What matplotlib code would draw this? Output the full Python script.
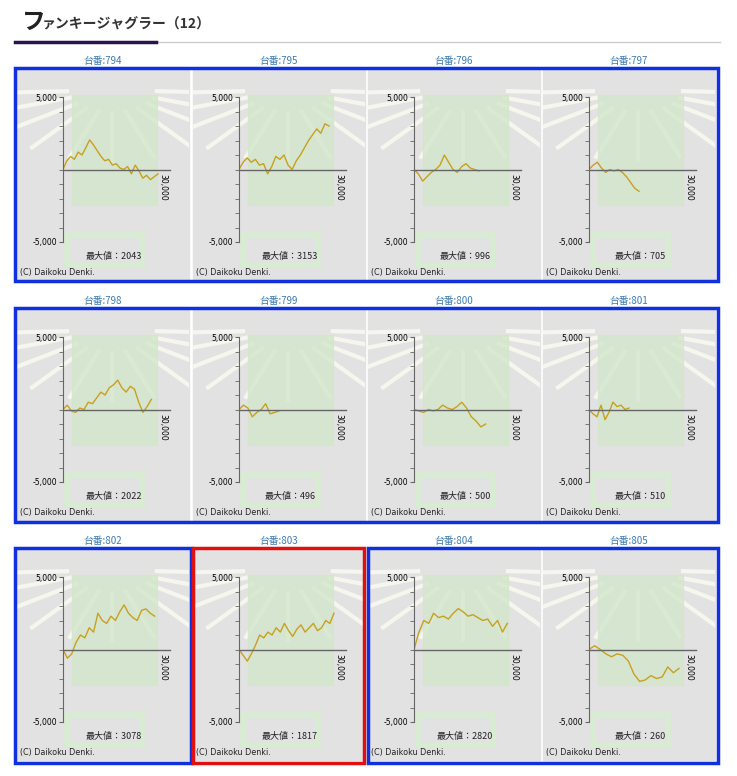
import matplotlib.pyplot as plt
from matplotlib.patches import Rectangle
import numpy as np

plt.rcParams['font.family'] = ['Noto Sans CJK JP', 'DejaVu Sans']

W, H = 737, 776

machines = [794, 795, 796, 797, 798, 799, 800, 801, 802, 803, 804, 805]
max_vals = [2043, 3153, 996, 705, 2022, 496, 500, 510, 3078, 1817, 2820, 260]
end_games = [28500, 27000, 19500, 15000, 26500, 12000, 21500, 12000, 27500, 28500, 28000, 27000]
series = [
    [0, 600, 900, 700, 1200, 1000, 1500, 2043, 1700, 1300, 900, 600, 700, 300, 400, 100, 0, 200, -300, 300, -100, -600, -400, -700, -500, -300],
    [0, 500, 800, 500, 700, 300, 400, -300, 200, 900, 700, 1000, 300, 0, 600, 1000, 1500, 2000, 2400, 2800, 2500, 3153, 3000],
    [0, -300, -800, -500, -200, 0, 300, 996, 500, 0, -200, 200, 400, 100, 0, -100],
    [0, 300, 500, 100, -200, 0, -100, 0, -200, -500, -900, -1300, -1500],
    [0, 300, -100, -200, 100, 0, 500, 400, 800, 1200, 1000, 1500, 1700, 2022, 1500, 1200, 1600, 1400, 500, -200, 200, 700],
    [0, 300, 100, -500, -200, 0, 400, -300, -200, -100],
    [0, -100, -200, 0, -100, 0, 300, 100, 0, 200, 500, 100, -500, -800, -1200, -1000],
    [0, -300, -500, 300, -700, -200, 510, 200, 300, 0, 100],
    [0, -600, -300, 500, 1000, 800, 1500, 1200, 2500, 2000, 1800, 2300, 2000, 2600, 3078, 2500, 2200, 2000, 2700, 2800, 2500, 2300],
    [0, -400, -800, -300, 300, 1000, 800, 1200, 1000, 1500, 1200, 1800, 1300, 900, 1400, 1700, 1200, 1500, 1800, 1300, 1500, 2000, 1800, 2500],
    [0, 1200, 2000, 1800, 2500, 2200, 2300, 2100, 2500, 2820, 2600, 2300, 2400, 2200, 2000, 2100, 1600, 2000, 1200, 1800],
    [0, 260, 0, -300, -500, -300, -400, -800, -1700, -2200, -2100, -1800, -2000, -1900, -1200, -1600, -1300],
]

fig = plt.figure(figsize=(W / 100, H / 100), dpi=100)
fig.patch.set_facecolor('white')


def px(x, y, w, h):
    return [x / W, 1 - (y + h) / H, w / W, h / H]


bg = fig.add_axes([0, 0, 1, 1])
bg.set_xlim(0, W)
bg.set_ylim(H, 0)
bg.axis('off')

# header
bg.text(22, 22, 'フ', fontsize=17, fontweight='bold', va='center', color='#222')
bg.text(42, 24, 'ァンキージャグラー（12）', fontsize=10, fontweight='bold', va='center', color='#333')
bg.plot([15, 720], [42, 42], color='#cccccc', lw=1)
bg.plot([15, 156], [42, 42], color='#2a1450', lw=2.5)

col_x = [17, 193, 368, 543]
row_y = [70, 310, 550]
pw, ph = 172, 210

for i, m in enumerate(machines):
    r, c = divmod(i, 4)
    x0, y0 = col_x[c], row_y[r]
    bg.add_patch(Rectangle((x0, y0), pw, ph, color='#e2e2e2', zorder=0))
    # faint rays and machine picture in the background
    cx, cy = x0 + 95, y0 + 20
    for a in np.linspace(0.05, np.pi - 0.05, 11):
        ln, = bg.plot([cx + 45 * np.cos(a), cx + 140 * np.cos(a)],
                      [cy + 45 * np.sin(a) * 0.5, cy + 140 * np.sin(a) * 0.5],
                      color='#f6f6ee', lw=3, zorder=0.5)
        ln.set_clip_path(Rectangle((x0, y0), pw, ph, transform=bg.transData))
    bg.add_patch(Rectangle((x0 + 55, y0 + 25), 85, 110, color='#d3e6cb', alpha=0.8, zorder=0.6))
    bg.add_patch(Rectangle((x0 + 50, y0 + 165), 75, 30, fill=False, ec='#d8ecd2', lw=4, zorder=0.6))
    bg.text(x0 + pw / 2, y0 - 9, '台番:%d' % m, fontsize=7, color='#3c7bb0', ha='center', va='center')
    bg.text(x0 + 3, y0 + 202, '(C) Daikoku Denki.', fontsize=5.8, color='#222', va='center',
            family=['DejaVu Sans'])
    bg.text(x0 + 97, y0 + 186, '最大値：%d' % max_vals[i], fontsize=6.5, color='#222', ha='center', va='center')

    ax = fig.add_axes(px(x0 + 46, y0 + 27, 100, 145))
    ax.patch.set_alpha(0)
    ax.set_xlim(0, 30000)
    ax.set_ylim(-5000, 5000)
    vals = series[i]
    xs = np.linspace(0, end_games[i], len(vals))
    ax.plot(xs, vals, color='#c8a020', lw=1)
    ax.plot([0, 32000], [0, 0], color='#666666', lw=1, clip_on=False)
    ax.text(30000, -300, '30,000', rotation=270, fontsize=5.5, ha='center', va='top', family=['DejaVu Sans'])
    for s in ['top', 'right', 'bottom']:
        ax.spines[s].set_visible(False)
    ax.spines['left'].set_color('#666666')
    ax.set_xticks([])
    ax.set_yticks([5000, -5000])
    ax.set_yticklabels(['5,000', '-5,000'], fontsize=5.5, family=['DejaVu Sans'])
    ax.set_yticks(np.arange(-4000, 5000, 1000), minor=True)
    ax.tick_params(axis='y', which='both', length=3, color='#666666', pad=1)

# group boxes
boxes = [
    (15, 68, 703, 213, '#1030e0'),
    (15, 308, 703, 214, '#1030e0'),
    (15, 548, 176, 215, '#1030e0'),
    (193, 548, 171, 215, '#e01010'),
    (368, 548, 350, 215, '#1030e0'),
]
for bx, by, bw, bh, col in boxes:
    bg.add_patch(Rectangle((bx, by), bw, bh, fill=False, ec=col, lw=2.5, zorder=5))

fig.savefig('out.png', dpi=100)
